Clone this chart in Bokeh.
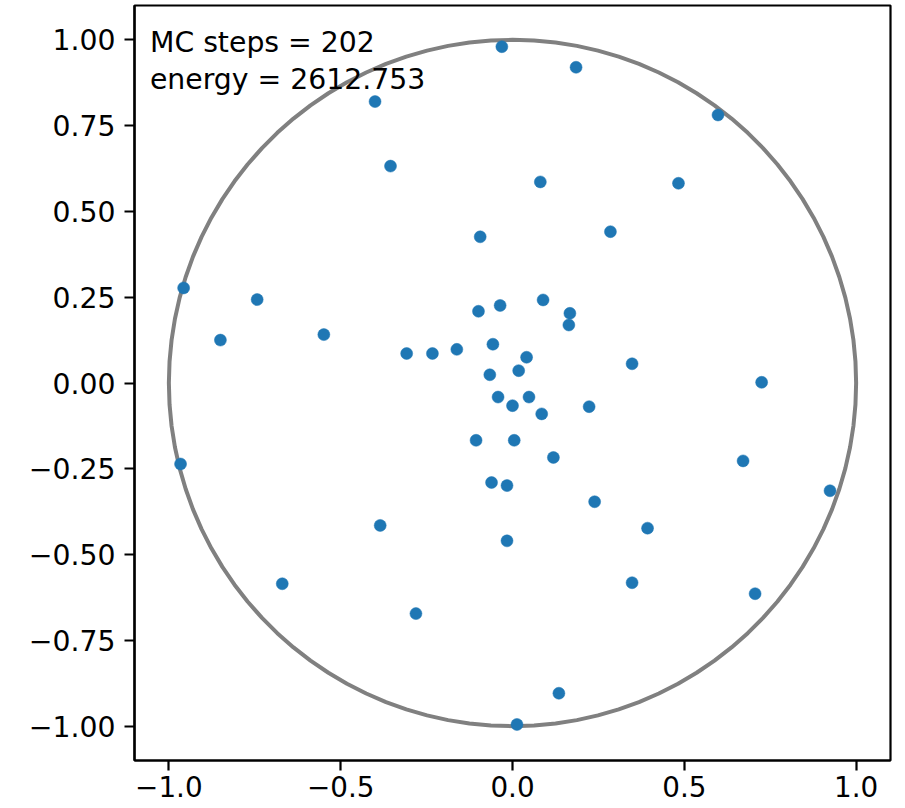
import numpy as np
from bokeh.plotting import figure
from bokeh.models import Label, FixedTicker, Range1d
from bokeh.embed import file_html
from bokeh.resources import INLINE

# particle positions
xs = [-0.031, 0.185, -0.400, 0.598, -0.355, 0.081, 0.483, 0.285, -0.094,
      -0.957, -0.743, -0.850, -0.549, -0.099, -0.036, -0.308, -0.233, -0.162,
      -0.057, -0.066, -0.042, -0.966, -0.106, -0.061, -0.016,
      0.089, 0.167, 0.164, 0.041, 0.018, 0.348, 0.725, 0.048, 0.000, 0.085,
      0.223, 0.005, 0.119, 0.671, 0.924, 0.239,
      -0.385, -0.016, -0.670, -0.281,
      0.393, 0.348, 0.706, 0.135, 0.013]
ys = [0.980, 0.920, 0.820, 0.781, 0.632, 0.586, 0.582, 0.441, 0.426,
      0.277, 0.243, 0.125, 0.141, 0.209, 0.226, 0.086, 0.086, 0.098,
      0.113, 0.024, -0.041, -0.236, -0.167, -0.290, -0.299,
      0.242, 0.203, 0.169, 0.075, 0.036, 0.056, 0.002, -0.041, -0.066, -0.090,
      -0.069, -0.167, -0.217, -0.227, -0.314, -0.346,
      -0.415, -0.460, -0.585, -0.672,
      -0.423, -0.582, -0.614, -0.904, -0.995]

x_ticks = [-1.0, -0.5, 0.0, 0.5, 1.0]
y_ticks = [-1.0, -0.75, -0.5, -0.25, 0.0, 0.25, 0.5, 0.75, 1.0]
x_tick_labels = {-1.0: "\u22121.0", -0.5: "\u22120.5", 0.0: "0.0", 0.5: "0.5", 1.0: "1.0"}
y_tick_labels = {-1.0: "\u22121.00", -0.75: "\u22120.75", -0.5: "\u22120.50", -0.25: "\u22120.25",
                 0.0: "0.00", 0.25: "0.25", 0.5: "0.50", 0.75: "0.75", 1.0: "1.00"}

mc_steps = 202
energy = 2612.753
circle_radius = 1.0

FONT = "DejaVu Sans"
FS = "28.3px"
FS_X = "27.8px"

p = figure(frame_width=756, frame_height=755, output_backend="svg", toolbar_location=None,
           x_range=Range1d(-1.1, 1.1), y_range=Range1d(-1.1, 1.1),
           min_border_left=134, min_border_right=15, min_border_top=5, min_border_bottom=0)
p.background_fill_color = "white"
p.border_fill_color = "white"
p.grid.visible = False
p.outline_line_color = "black"
p.outline_line_width = 2.2

for ax in (p.xaxis[0], p.yaxis[0]):
    ax.axis_line_color = "black"
    ax.axis_line_width = 2.2
    ax.major_tick_line_width = 2.2
    ax.major_tick_out = 10
    ax.major_tick_in = 0
    ax.minor_tick_line_color = None
    ax.major_label_text_font = FONT
    ax.major_label_text_color = "black"

p.xaxis[0].major_label_text_font_size = FS_X
p.yaxis[0].major_label_text_font_size = FS
p.xaxis[0].ticker = FixedTicker(ticks=x_ticks)
p.yaxis[0].ticker = FixedTicker(ticks=y_ticks)
p.xaxis[0].major_label_overrides = x_tick_labels
p.yaxis[0].major_label_overrides = y_tick_labels
p.xaxis[0].major_label_standoff = 5
p.yaxis[0].major_label_standoff = 9

theta = np.linspace(0, 2 * np.pi, 101)
p.line(circle_radius * np.cos(theta), circle_radius * np.sin(theta),
       line_color="#808080", line_width=4)

p.scatter(xs, ys, size=12, marker="circle", fill_color="#1f77b4", line_color="#1f77b4", line_width=0.5)

p.add_layout(Label(x=-1.055, y=0.991, text=f"MC steps = {mc_steps}", text_font=FONT,
                   text_font_size=FS, text_color="black", text_baseline="alphabetic"))
p.add_layout(Label(x=-1.055, y=0.883, text=f"energy = {energy}", text_font=FONT,
                   text_font_size=FS, text_color="black", text_baseline="alphabetic"))

open("out.html", "w").write(file_html(p, INLINE))
